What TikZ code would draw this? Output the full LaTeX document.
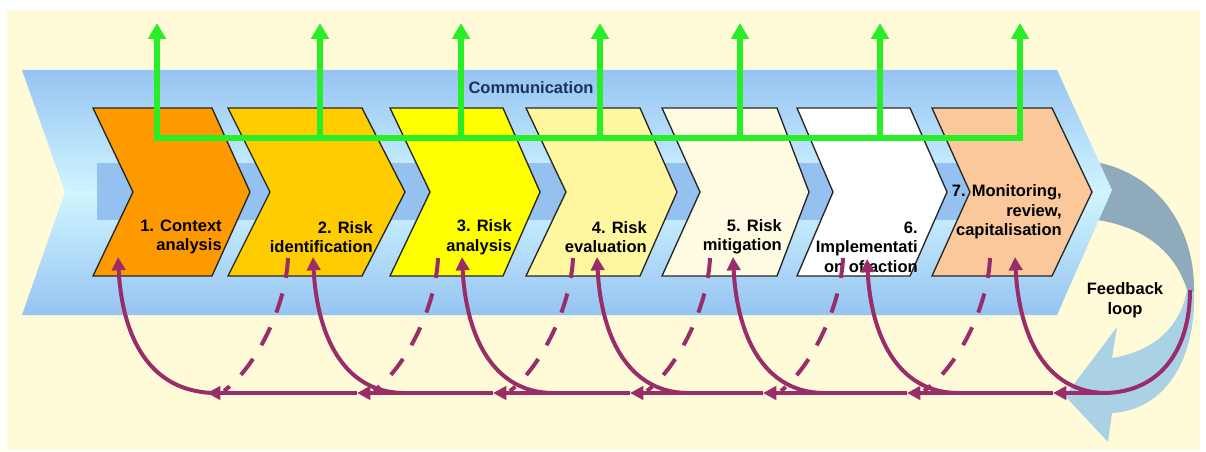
\documentclass[tikz,border=0pt]{standalone}
\usepackage{fontspec}
\setmainfont{Liberation Sans}
\usetikzlibrary{arrows.meta}

\definecolor{cream}{RGB}{255,251,216}
\definecolor{bandblue}{RGB}{150,196,242}
\definecolor{bandcyan}{RGB}{208,245,255}
\definecolor{innerblue}{RGB}{148,193,240}
\definecolor{commgreen}{RGB}{40,238,40}
\definecolor{commtext}{RGB}{30,50,90}
\definecolor{plum}{RGB}{153,45,105}
\definecolor{fbgrey}{RGB}{143,170,186}
\definecolor{fblight}{RGB}{170,210,228}
\definecolor{stepone}{RGB}{255,153,0}
\definecolor{steptwo}{RGB}{255,204,0}
\definecolor{stepthree}{RGB}{255,255,0}
\definecolor{stepfour}{RGB}{255,246,160}
\definecolor{stepfive}{RGB}{255,251,226}
\definecolor{stepsix}{RGB}{255,255,255}
\definecolor{stepseven}{RGB}{250,200,155}

\begin{document}
\begin{tikzpicture}[x=0.75pt,y=0.75pt,yscale=-1,xscale=1,
  chev/.style={draw=black!85,line width=1pt},
  lbl/.style={font=\bfseries\fontsize{12.4}{14.6}\selectfont,align=right,inner sep=0pt,anchor=east},
  comm/.style={draw=commgreen,line width=4.5pt},
  commtip/.style={-{Triangle[length=12pt,width=13pt]}},
  fback/.style={draw=plum,line width=3pt},
  fbtip/.style={-{Triangle[length=10pt,width=10pt]}},
  fbdash/.style={fback,dash pattern=on 15pt off 12pt}]

\useasboundingbox (0,0) rectangle (1206,452);
\fill[cream] (7,10) rectangle (1200,450);

% feedback loop arrow (behind the band)
\fill[fbgrey] (1080,160) .. controls (1150,165) and (1195,220) .. (1194,292) -- (1187,290) .. controls (1175,250) and (1140,222) .. (1080,218) -- cycle;
\fill[fblight] (1187,290) .. controls (1180,330) and (1150,352) .. (1112,358) -- (1117,327) -- (1065,396) -- (1108,442) -- (1112,413) .. controls (1165,410) and (1196,360) .. (1194,292) -- cycle;

% band
\shade[top color=bandblue,bottom color=bandblue,middle color=bandcyan] (22,70) -- (1057,70) -- (1112,190) -- (1057,315) -- (22,315) -- (65,192) -- cycle;
\fill[innerblue] (97,163) rectangle (1060,220);

% steps
\draw[chev,fill=stepone] (93,108) -- (212,108) -- (250,192) -- (212,276) -- (93,276) -- (133,192) -- cycle;
\draw[chev,fill=steptwo] (228,108) -- (362,108) -- (405,192) -- (362,276) -- (228,276) -- (270,192) -- cycle;
\draw[chev,fill=stepthree] (390,108) -- (503,108) -- (540,192) -- (503,276) -- (390,276) -- (430,192) -- cycle;
\draw[chev,fill=stepfour] (526,108) -- (640,108) -- (677,192) -- (640,276) -- (526,276) -- (566,192) -- cycle;
\draw[chev,fill=stepfive] (662,108) -- (777,108) -- (809,192) -- (777,276) -- (662,276) -- (700,192) -- cycle;
\draw[chev,fill=stepsix] (797,108) -- (910,108) -- (947,192) -- (910,276) -- (797,276) -- (833,192) -- cycle;
\draw[chev,fill=stepseven] (932,108) -- (1052,108) -- (1092,192) -- (1052,276) -- (932,276) -- (970,192) -- cycle;

% communication
\coordinate (g1) at (157,138);
\coordinate (g2) at (320,138);
\coordinate (g3) at (461,138);
\coordinate (g4) at (600,138);
\coordinate (g5) at (740,138);
\coordinate (g6) at (880,138);
\coordinate (g7) at (1020,138);
\coordinate (t1) at (157,23);
\coordinate (t2) at (320,23);
\coordinate (t3) at (461,23);
\coordinate (t4) at (600,23);
\coordinate (t5) at (740,23);
\coordinate (t6) at (880,23);
\coordinate (t7) at (1020,23);
\draw[comm,{Triangle[length=12pt,width=13pt]}-{Triangle[length=12pt,width=13pt]}] (t1) -- (g1) -- (g7) -- (t7);
\draw[comm,commtip] (g2) -- (t2);
\draw[comm,commtip] (g3) -- (t3);
\draw[comm,commtip] (g4) -- (t4);
\draw[comm,commtip] (g5) -- (t5);
\draw[comm,commtip] (g6) -- (t6);

\node[font=\bfseries\fontsize{12.4}{14.6}\selectfont,text=commtext,inner sep=0pt] (commlbl) at (531,88) {Communication};

\node[lbl] (lab1) at (222,237) {1. Context\\analysis};
\node[lbl] (lab2) at (373,237) {2. Risk\\identification};
\node[lbl] (lab3) at (512,237) {3. Risk\\analysis};
\node[lbl] (lab4) at (647,237) {4. Risk\\evaluation};
\node[lbl] (lab5) at (782,237) {5. Risk\\mitigation};
\node[lbl] (lab6) at (918,247) {6.\\Implementati\\on of action};
\node[lbl] (lab7) at (1062,212) {7. Monitoring,\\review,\\capitalisation};
\node[font=\bfseries\fontsize{12.4}{14.6}\selectfont,align=center,inner sep=0pt] (fblbl) at (1125,300) {Feedback\\loop};

% feedback line
\coordinate (fb) at (1190,290);
\coordinate (hs) at (1105,393);
\coordinate (h7) at (1053,393);
\coordinate (h6) at (907,393);
\coordinate (h5) at (763,393);
\coordinate (h4) at (630,393);
\coordinate (h3) at (493,393);
\coordinate (h2) at (357,393);
\coordinate (h1) at (207,393);
\draw[fback] (fb) .. controls (1190,350) and (1160,392) .. (hs);
\draw[fback,fbtip] (hs) -- (h7);
\draw[fback,fbtip] (h7) -- (h6);
\draw[fback,fbtip] (h6) -- (h5);
\draw[fback,fbtip] (h5) -- (h4);
\draw[fback,fbtip] (h4) -- (h3);
\draw[fback,fbtip] (h3) -- (h2);
\draw[fback,fbtip] (h2) -- (h1);

% back to each step
\draw[fback,fbtip] (215,393) .. controls (148,392) and (122,335) .. (118,257);
\draw[fback,fbtip] (403,393) .. controls (343,392) and (317,335) .. (313,257);
\draw[fback,fbtip] (552,393) .. controls (492,392) and (466,335) .. (462,257);
\draw[fback,fbtip] (687,393) .. controls (627,392) and (601,335) .. (597,257);
\draw[fback,fbtip] (823,393) .. controls (763,392) and (737,335) .. (733,257);
\draw[fback,fbtip] (957,393) .. controls (897,392) and (871,335) .. (867,259);
\draw[fback,fbtip] (hs) .. controls (1045,392) and (1019,335) .. (1015,257);

% out of each step
\draw[fbdash] (288,258) .. controls (286,305) and (258,365) .. (224,391);
\draw[fbdash] (438,258) .. controls (436,305) and (408,365) .. (374,391);
\draw[fbdash] (573,258) .. controls (571,305) and (543,365) .. (510,391);
\draw[fbdash] (710,258) .. controls (708,305) and (680,365) .. (647,391);
\draw[fbdash] (843,258) .. controls (841,305) and (813,365) .. (781,391);
\draw[fbdash] (990,258) .. controls (988,305) and (960,365) .. (924,391);

\end{tikzpicture}
\end{document}
